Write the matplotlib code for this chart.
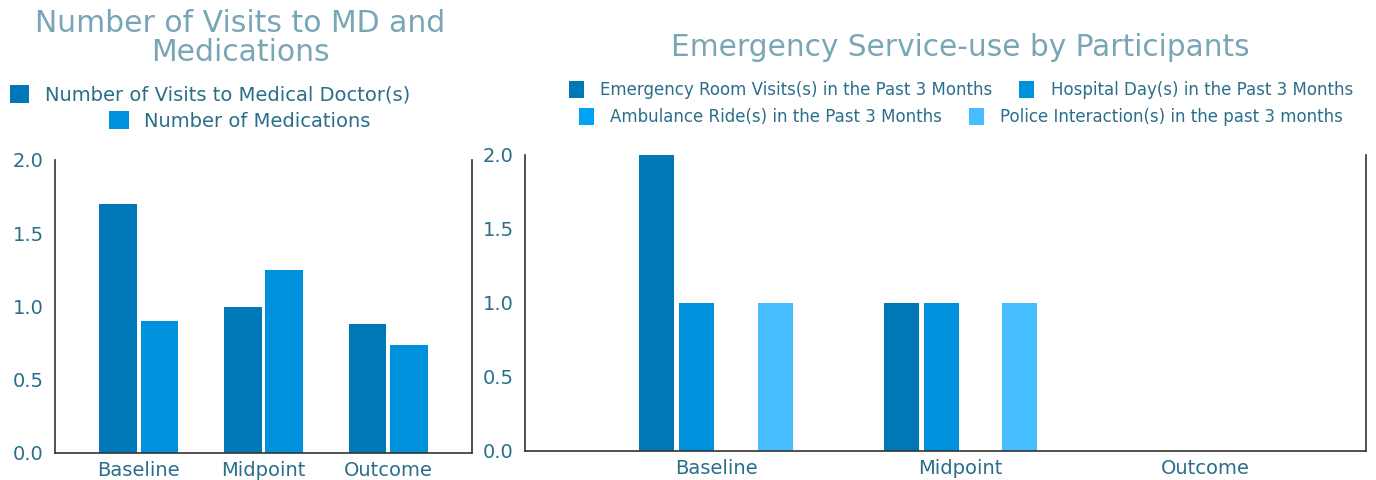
"""
Two grouped bar charts: MD visits / medications and emergency service-use
"""

import matplotlib
matplotlib.use('agg')
import matplotlib.pyplot as plt
from matplotlib.patches import Patch
import numpy as np

timepoints = ["Baseline", "Midpoint", "Outcome"]

# left chart
md_visits = [1.7, 1.0, 0.88]
medications = [0.9, 1.25, 0.74]
left_labels = ["Number of Visits to Medical Doctor(s)", "Number of Medications"]

# right chart
er_visits = [2.0, 1.0, 0.0]
hospital_days = [1.0, 1.0, 0.0]
ambulance_rides = [0.0, 0.0, 0.0]
police_interactions = [1.0, 1.0, 0.0]
right_labels = ["Emergency Room Visits(s) in the Past 3 Months",
                "Hospital Day(s) in the Past 3 Months",
                "Ambulance Ride(s) in the Past 3 Months",
                "Police Interaction(s) in the past 3 months"]

colors = ["#0077b6", "#0091dd", "#00a3f3", "#45bdff"]
title_color = "#78a6b6"
text_color = "#2a6e8a"

W, H = 1376, 480
fig = plt.figure(figsize=(W / 100, H / 100), dpi=100)


def px_axes(x0, x1, y_top, y_bot):
    return fig.add_axes([x0 / W, 1 - y_bot / H, (x1 - x0) / W, (y_bot - y_top) / H])


def style_axes(axes, xlim):
    axes.set_ylim(0, 2)
    axes.set_xlim(*xlim)
    axes.set_yticks([0, 0.5, 1.0, 1.5, 2.0])
    axes.set_yticklabels(["0.0", "0.5", "1.0", "1.5", "2.0"])
    axes.set_xticks(range(len(timepoints)))
    axes.set_xticklabels(timepoints)
    axes.spines['top'].set_visible(False)
    for side in ('left', 'right', 'bottom'):
        axes.spines[side].set_color('#333333')
        axes.spines[side].set_linewidth(1.2)
    axes.tick_params(length=0, colors=text_color, labelsize=14)
    axes.tick_params(axis='y', pad=8)
    axes.tick_params(axis='x', pad=6)


def add_row_legend(labels, cols, x, y, size, hl, hh, pad, spacing):
    handles = [Patch(facecolor=c, edgecolor='none') for c in cols]
    leg = fig.legend(handles, labels, loc='center', bbox_to_anchor=(x / W, 1 - y / H),
                     ncol=len(labels), frameon=False, fontsize=size,
                     handlelength=hl, handleheight=hh, handletextpad=pad,
                     columnspacing=spacing, borderpad=0)
    for t in leg.get_texts():
        t.set_color(text_color)


# left chart
ax1 = px_axes(55, 472, 160, 453)
x = np.arange(len(timepoints))
w1 = 0.3
ax1.bar(x - 0.165, md_visits, w1, color=colors[0], linewidth=0)
ax1.bar(x + 0.165, medications, w1, color=colors[1], linewidth=0)
style_axes(ax1, (-0.67, 2.67))
fig.text(240 / W, 1 - 38 / H, "Number of Visits to MD and\nMedications",
         ha='center', va='center', fontsize=21.5, color=title_color, linespacing=1.02)
add_row_legend(left_labels[:1], colors[:1], 210, 95, 14, 1.0, 1.0, 0.8, 1.6)
add_row_legend(left_labels[1:], colors[1:2], 240, 121, 14, 1.0, 1.0, 0.8, 1.6)

# right chart
ax2 = px_axes(525, 1366, 155, 451)
w2 = 0.143
step = 0.161
series = [er_visits, hospital_days, ambulance_rides, police_interactions]
for i, vals in enumerate(series):
    ax2.bar(x + (i - 1.5) * step, vals, w2, color=colors[i], linewidth=0)
style_axes(ax2, (-0.78, 2.655))
fig.text(960 / W, 1 - 48 / H, "Emergency Service-use by Participants",
         ha='center', va='center', fontsize=21.3, color=title_color)
add_row_legend(right_labels[:2], colors[:2], 961, 90, 12, 0.9, 1.25, 1.0, 1.6)
add_row_legend(right_labels[2:], colors[2:], 961, 117, 12, 0.9, 1.25, 1.0, 1.6)

fig.savefig("out.png", dpi=100)
